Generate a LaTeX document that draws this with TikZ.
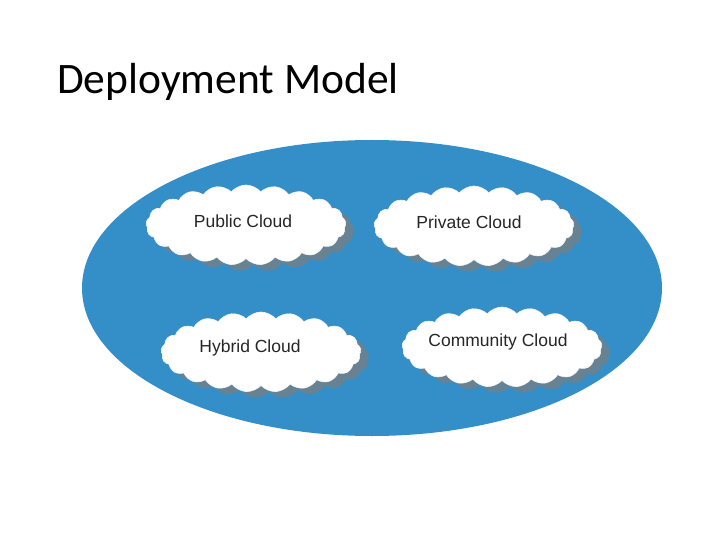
\documentclass[tikz,border=0pt]{standalone}
\usepackage{fontspec}
\setmainfont{Liberation Sans}
\newfontfamily\titlefont{Carlito}
\usetikzlibrary{shapes.symbols,shapes.geometric}
\definecolor{ellblue}{RGB}{52,143,201}
\definecolor{shadowgray}{RGB}{125,125,125}
\begin{document}
\begin{tikzpicture}[x=1pt,y=-1pt,
  cloudbox/.style={cloud, cloud puffs=21, cloud puff arc=100, aspect=2.5,
    fill=white, draw=white!92!gray, line width=0.6pt, inner sep=0pt,
    minimum width=200pt, minimum height=80pt},
  cloudshadow/.style={cloud, cloud puffs=21, cloud puff arc=100, aspect=2.5,
    fill=shadowgray, draw=none, inner sep=0pt, opacity=0.7,
    minimum width=200pt, minimum height=80pt},
  cloudtext/.style={font=\fontsize{17.5}{20}\selectfont, text=black!85, inner sep=0pt}]
\useasboundingbox (0,0) rectangle (720,540);
\fill[white] (0,0) rectangle (720,540);
\node[anchor=base west, font=\titlefont\fontsize{43.5}{50}\selectfont, inner sep=0pt] (title) at (57,94) {Deployment Model};
\node[ellipse, fill=ellblue, minimum width=580pt, minimum height=296pt, inner sep=0pt] (ell) at (372,288) {};
% shadows
\node[cloudshadow] (s1) at (254,231) {};
\node[cloudshadow] (s2) at (482,232) {};
\node[cloudshadow] (s3) at (269,358) {};
\node[cloudshadow] (s4) at (510,353) {};
% clouds
\node[cloudbox] (pub) at (246,225) {};
\node[cloudbox] (pri) at (474,226) {};
\node[cloudbox] (hyb) at (261,352) {};
\node[cloudbox] (com) at (502,347) {};
\node[cloudtext] (tpub) at (243,221) {Public Cloud};
\node[cloudtext] (tpri) at (469,222) {Private Cloud};
\node[cloudtext] (thyb) at (250,348) {Hybrid Cloud};
\node[cloudtext] (tcom) at (498,342) {Community Cloud};
\end{tikzpicture}
\end{document}
